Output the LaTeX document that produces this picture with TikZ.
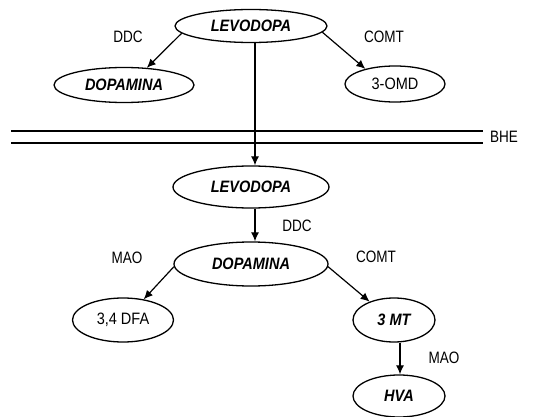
\documentclass[tikz,border=0pt]{standalone}
\usepackage{fontspec}
\setmainfont{Liberation Sans}
\newfontfamily\lblfont[FakeStretch=0.82]{Liberation Sans}
\newfontfamily\elfont[FakeStretch=0.88]{Liberation Sans}
\usetikzlibrary{shapes.geometric,arrows.meta}
\begin{document}
\begin{tikzpicture}[x=1pt,y=-1pt,
  ell/.style={draw,ellipse,line width=1.3pt,inner sep=0pt,font=\elfont\fontsize{16.5}{18}\selectfont},
  bi/.style={font=\elfont\fontsize{16.5}{18}\selectfont\bfseries\itshape},
  lbl/.style={font=\lblfont\fontsize{16.5}{18}\selectfont,inner sep=0pt},
  arr/.style={line width=1.2pt,-{Latex[length=9pt,width=8pt]}},
  bar/.style={line width=2pt}]
\useasboundingbox (0,0) rectangle (552,417);
% top
\node[ell,bi,minimum width=152pt,minimum height=33pt] (lev1) at (251,26) {LEVODOPA};
\node[ell,bi,minimum width=140pt,minimum height=35pt] (dop1) at (124,85) {DOPAMINA};
\node[ell,minimum width=100pt,minimum height=36pt] (omd) at (395,84) {3-OMD};
\node[lbl] (ddc1) at (128,37) {DDC};
\node[lbl] (comt1) at (384,37) {COMT};
\draw[arr] (lev1.186) -- (dop1.37);
\draw[arr] (lev1.-5) -- (omd.153);
% barrier
\coordinate (b1l) at (11,131); \coordinate (b1r) at (483,131);
\coordinate (b2l) at (11,143); \coordinate (b2r) at (483,143);
\draw[bar] (b1l) -- (b1r);
\draw[bar] (b2l) -- (b2r);
\node[lbl,anchor=west] (bhe) at (490,137) {BHE};
% second level
\node[ell,bi,minimum width=156pt,minimum height=42pt] (lev2) at (251,187) {LEVODOPA};
\node[ell,bi,minimum width=154pt,minimum height=44pt] (dop2) at (251,264) {DOPAMINA};
\draw[arr] ([xshift=4pt]lev1.south) -- ([xshift=4pt]lev2.north);
\draw[arr] ([xshift=4pt]lev2.south) -- ([xshift=4pt]dop2.north);
\node[lbl] (ddc2) at (297,226) {DDC};
\node[lbl] (mao1) at (127,258) {MAO};
\node[lbl] (comt2) at (376,257) {COMT};
\node[ell,minimum width=101pt,minimum height=44pt] (dfa) at (123,320) {3,4 DFA};
\node[ell,bi,minimum width=82pt,minimum height=44pt] (mt) at (394,320) {3 MT};
\node[ell,bi,minimum width=92pt,minimum height=42pt] (hva) at (399,396) {HVA};
\draw[arr] (dop2.182) -- (dfa.45);
\draw[arr] (dop2.-2) -- (mt.143);
\draw[arr] ([xshift=6pt]mt.south) -- ([xshift=1pt]hva.north);
\node[lbl] (mao2) at (444,358) {MAO};
\end{tikzpicture}
\end{document}
